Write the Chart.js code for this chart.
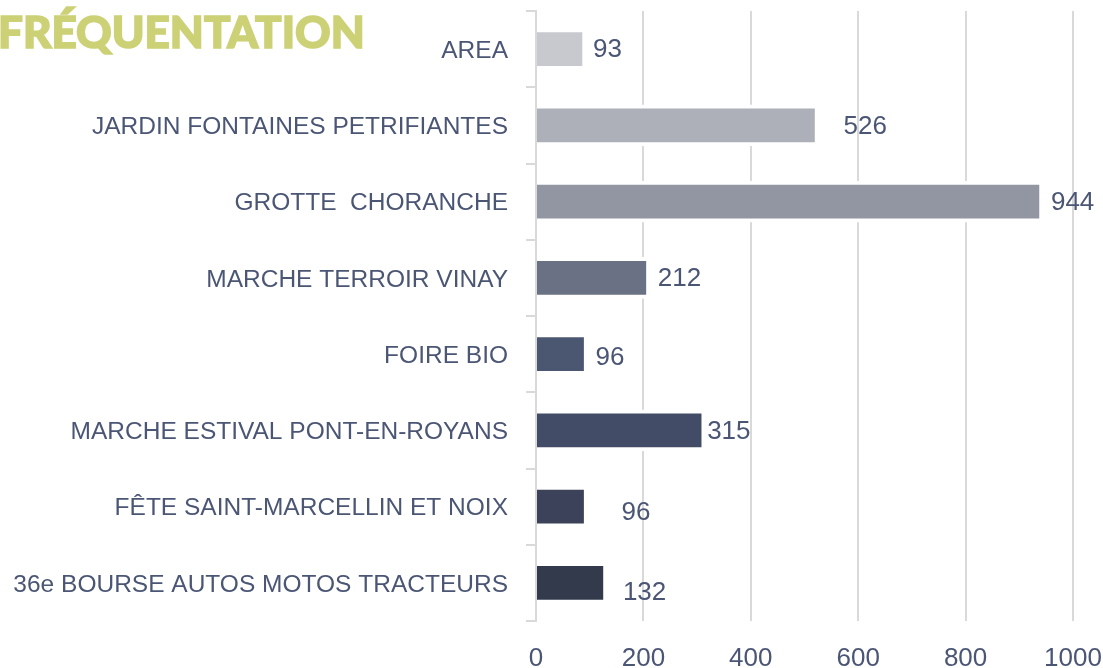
<!DOCTYPE html>
<html>
<head>
<meta charset="utf-8">
<script src="https://cdn.jsdelivr.net/npm/chart.js@4.4.0/dist/chart.umd.min.js"></script>
<style>
    html, body { margin: 0; padding: 0; background: #ffffff; }
    #wrap { position: relative; width: 1103px; height: 668px; overflow: hidden; }
    #title {
        position: absolute; left: -2px; top: 5px;
        font-family: Lato, sans-serif; font-weight: 900; font-size: 44px;
        color: #cdd176; white-space: nowrap;
        -webkit-text-stroke: 1.6px #cdd176;
    }
</style>
</head>
<body>
<div id="wrap">
    <canvas id="chart" width="1103" height="668"></canvas>
    <div id="title">FRÉQUENTATION</div>
</div>
<script>
// Chart data
const categories = [
    'AREA',
    'JARDIN FONTAINES PETRIFIANTES',
    'GROTTE  CHORANCHE',
    'MARCHE TERROIR VINAY',
    'FOIRE BIO',
    'MARCHE ESTIVAL PONT-EN-ROYANS',
    'FÊTE SAINT-MARCELLIN ET NOIX',
    '36e BOURSE AUTOS MOTOS TRACTEURS'
];
const visitors = [93, 526, 944, 212, 96, 315, 96, 132];
const xTicks = [0, 200, 400, 600, 800, 1000];

// Styling (one colour per bar, light to dark)
const barColors = ['#c8c9ce', '#adb0b9', '#9296a2', '#6a7184', '#4b5670', '#434c66', '#3b4259', '#333a4c'];
const labelShiftX = [7, 25, 8, 8, 8, 2, 34, 16];
const labelShiftY = [1, 1, 1, 1, 4, 1, 6, 10];
const textColor = '#4b5675';
const gridColor = '#d9d9d9';
const fontFamily = '"Liberation Sans", Arial, sans-serif';

// Draw the value next to each bar
const valueLabels = {
    id: 'valueLabels',
    afterDatasetsDraw(chart) {
        const ctx = chart.ctx;
        const meta = chart.getDatasetMeta(0);
        ctx.save();
        ctx.font = '26px ' + fontFamily;
        ctx.fillStyle = textColor;
        ctx.textAlign = 'left';
        ctx.textBaseline = 'middle';
        meta.data.forEach((bar, i) => {
            ctx.fillText(String(visitors[i]), bar.x + labelShiftX[i], bar.y + labelShiftY[i]);
        });
        ctx.restore();
    }
};

// Scales reserve room for half a tick label at their ends; drop that
function noEdgePadding(scale) {
    scale.paddingTop = 0;
    scale.paddingBottom = 0;
    scale.paddingLeft = 0;
    scale.paddingRight = 0;
}

const ctx = document.getElementById('chart').getContext('2d');
new Chart(ctx, {
    type: 'bar',
    data: {
        labels: categories,
        datasets: [{
            data: visitors,
            backgroundColor: barColors,
            borderColor: '#ffffff',
            borderWidth: 4,
            borderSkipped: 'start',
            barThickness: 41
        }]
    },
    options: {
        indexAxis: 'y',
        responsive: false,
        animation: false,
        layout: { padding: { top: 11, right: 30, left: 0, bottom: 0 } },
        plugins: {
            legend: { display: false },
            tooltip: { enabled: false }
        },
        scales: {
            x: {
                min: 0,
                max: 1000,
                afterBuildTicks: (scale) => { scale.ticks = xTicks.map(v => ({ value: v })); },
                afterFit: (scale) => { scale.height = 47; noEdgePadding(scale); },
                grid: { color: gridColor, lineWidth: 2, drawTicks: false },
                border: { display: false },
                ticks: {
                    color: textColor,
                    padding: 22,
                    font: { family: fontFamily, size: 26 },
                    callback: (v) => String(v)
                }
            },
            y: {
                afterFit: (scale) => { scale.width = 536; noEdgePadding(scale); },
                grid: { drawOnChartArea: false, color: gridColor, lineWidth: 2, tickLength: 10, offset: true },
                border: { color: gridColor, width: 2 },
                ticks: {
                    color: textColor,
                    padding: 18,
                    labelOffset: 2,
                    font: { family: fontFamily, size: 24.5 }
                }
            }
        }
    },
    plugins: [valueLabels]
});
</script>
</body>
</html>
